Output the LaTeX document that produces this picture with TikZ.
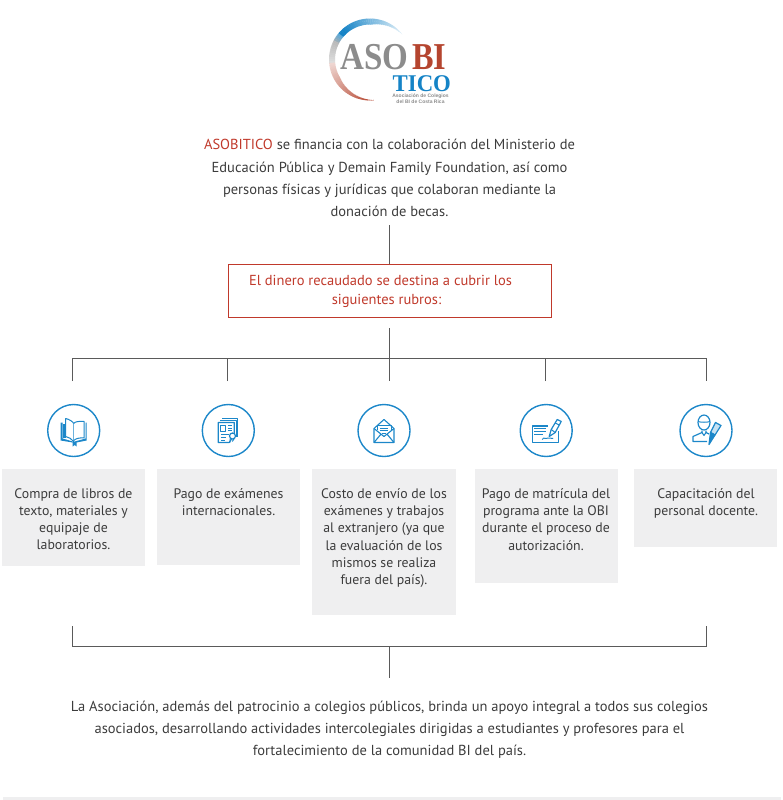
\documentclass[tikz,border=0pt]{standalone}
\usepackage{fontspec}
\usepackage{graphicx}
\setmainfont{PT Sans}
\newfontfamily\logoserif{Liberation Serif}
\newfontfamily\logosans{Liberation Sans}
\usetikzlibrary{calc}
\definecolor{linegray}{HTML}{5A5A5A}
\definecolor{txt}{HTML}{3C3C3C}
\definecolor{redb}{HTML}{C0392B}
\definecolor{boxg}{HTML}{EFEFF0}
\definecolor{iconb}{HTML}{1C87C9}
\definecolor{logog}{HTML}{8C8C8C}
\definecolor{logor}{HTML}{B5452F}
\definecolor{logob}{HTML}{1583C6}
\tikzset{
  x=1pt,y=-1pt,
  conn/.style={draw=linegray,line width=0.8pt},
  body/.style={text=txt,font=\fontsize{14.5}{22.2}\selectfont,align=center,inner sep=0pt},
  boxtxt/.style={text=txt,font=\fontsize{13.8}{17.2}\selectfont,align=center,inner sep=0pt,anchor=north},
  redbox/.style={draw=redb,line width=0.8pt,minimum width=323pt,minimum height=53pt,inner sep=0pt},
  redtxt/.style={text=redb,font=\fontsize{14.5}{18.5}\selectfont,align=center,inner sep=0pt},
  icirc/.style={circle,draw=iconb,line width=1.4pt,minimum size=52pt,inner sep=0pt},
  ic/.style={draw=iconb,line width=1pt,line join=round},
  icf/.style={fill=iconb,draw=none},
}
\begin{document}
\begin{tikzpicture}
\useasboundingbox (0,0) rectangle (783,800);
% logo ring
\foreach \a in {38,41,...,272} {
  \pgfmathsetmacro\w{min(6,(\a-35)*0.12,(276-\a)*0.09)}
  \pgfmathsetmacro\rr{41-\w/2}
  \pgfmathtruncatemacro\zone{\a<140 ? 1 : (\a<152 ? 2 : (\a<185 ? 3 : 4))}
  \ifcase\zone\or
    \pgfmathtruncatemacro\m{min(100,12+(\a-38)*0.95)}\colorlet{ringc}{logob!\m}
  \or
    \pgfmathtruncatemacro\m{100-(\a-140)*8}\colorlet{ringc}{logob!\m!logog!70}
  \or
    \pgfmathtruncatemacro\m{60-(\a-152)*1}\colorlet{ringc}{logog!\m}
  \or
    \pgfmathtruncatemacro\m{22+(\a-185)*0.9}\colorlet{ringc}{logor!\m}
  \fi
  \draw[line width=\w pt,ringc] ($(370,59.5)+({\rr*cos(\a)},{-\rr*sin(\a)})$) arc[start angle=-\a,end angle=-\a-3.5,radius=\rr];
}
\node[inner sep=0pt,anchor=base west,text=logog,font=\logoserif\bfseries\fontsize{38}{38}\selectfont] (aso) at (340,70) {\scalebox{0.87}[1]{ASO}};
\node[inner sep=0pt,anchor=base west,text=logor,font=\logoserif\bfseries\fontsize{38}{38}\selectfont] (bi) at (412,70) {\scalebox{0.85}[1]{BI}};
\node[inner sep=0pt,anchor=base west,text=logob,font=\logoserif\bfseries\fontsize{24}{24}\selectfont] (tico) at (392.5,91) {\scalebox{0.95}[1]{TICO}};
\node[inner sep=0pt,text=logog,align=center,font=\logosans\bfseries\fontsize{5}{5.8}\selectfont] (sub) at (420.5,99) {Asociación de Colegios\\del BI de Costa Rica};
% intro
\node[body] (intro) at (389.5,178) {{\color{redb}ASOBITICO} se financia con la colaboración del Ministerio de\\Educación Pública y Demain Family Foundation, así como\\personas físicas y jurídicas que colaboran mediante la\\donación de becas.};
\coordinate (t1) at (389.5,225);
\node[redbox] (red) at (389.5,290.5) {};
\node[redtxt] (redt) at (380.5,291.5) {El dinero recaudado se destina a cubrir los\hspace{6pt}\\\hspace{12pt}siguientes rubros:};
\draw[conn] (t1) -- (red.north);
% tree
\coordinate (hub) at (389.5,358);
\coordinate (t2) at (389.5,328);
\coordinate (bl) at (72.5,358); \coordinate (br) at (706.5,358);
\coordinate (d1) at (72.5,381); \coordinate (d2) at (227.5,381); \coordinate (d3) at (389.5,381); \coordinate (d4) at (545,381); \coordinate (d5) at (706.5,381);
\draw[conn] (d1) -- (bl) -- (br) -- (d5);
\draw[conn] (t2) -- (d3);
\draw[conn] (d2) -- (d2 |- hub);
\draw[conn] (d4) -- (d4 |- hub);
% circles
\node[icirc] (c1) at (73.7,430.5) {};
\node[icirc] (c2) at (228.3,430.5) {};
\node[icirc] (c3) at (384,430.5) {};
\node[icirc] (c4) at (546.2,430.5) {};
\node[icirc] (c5) at (706,430.5) {};
% boxes
\fill[boxg] (2,469) rectangle (145,566);
\fill[boxg] (157,469) rectangle (300,565);
\fill[boxg] (312,469) rectangle (456,615);
\fill[boxg] (474.5,469) rectangle (618,583);
\fill[boxg] (634,469) rectangle (777,547);
\node[boxtxt] (b1) at (73.5,488.3) {Compra de libros de\\texto, materiales y\\equipaje de\\laboratorios.};
\node[boxtxt] (b2) at (228.5,488.3) {Pago de exámenes\\internacionales.};
\node[boxtxt] (b3) at (384,488.3) {Costo de envío de los\\exámenes y trabajos\\al extranjero (ya que\\la evaluación de los\\mismos se realiza\\fuera del país).};
\node[boxtxt] (b4) at (546,488.3) {Pago de matrícula del\\programa ante la OBI\\durante el proceso de\\autorización.};
\node[boxtxt] (b5) at (706,488.3) {Capacitación del\\personal docente.};
% icon 1 book
\begin{scope}[shift={(c1.center)}]
 \fill[iconb] (-13,-8) -- (-11,-8) -- (-11,8) -- (-1,11) -- (1,11) -- (12,8) -- (12,-8) -- (13,-8) -- (13,10) -- (3,12) -- (3,16) -- (1,14.5) -- (-1,16) -- (-1,12) -- (-13,10) -- cycle;
 \fill[iconb] (-11,-7) rectangle (-8,7);
 \draw[ic,fill=white] (-8,-12) .. controls (-4,-11) and (-1,-9) .. (0,-7) -- (0,11) .. controls (-2,8) and (-5,7) .. (-8,6) -- cycle;
 \draw[ic,fill=white] (0,-7) .. controls (1,-9) and (6,-9.5) .. (10.5,-9) -- (10.5,7.5) .. controls (6,7) and (2,8) .. (0,10);
\end{scope}
% icon 2 document
\begin{scope}[shift={(c2.center)}]
 \draw[ic] (-6,-12) -- (9.5,-12) -- (9.5,6);
 \draw[ic] (-8,-10.2) -- (7.7,-10.2) -- (7.7,6);
 \draw[ic,fill=white,line width=1.2pt] (-10,-8) -- (6,-8) -- (6,4) -- (1,12) -- (-10,12) -- cycle;
 \draw[ic] (-7.5,-5) rectangle (-2.5,1);
 \draw[ic] (-0.5,-5) -- (4,-5) (-0.5,-2.5) -- (4,-2.5) (-0.5,0) -- (4,0);
 \draw[ic] (-7.5,4) -- (1,4) (-7.5,7) -- (-2,7) (-7.5,10) -- (-3,10);
 \draw[ic,fill=white,line width=1.2pt] (4.2,5.5) circle[radius=3];
 \draw[ic] (2,8) -- (1.5,12) (6,8) -- (4,11);
\end{scope}
% icon 3 envelope
\begin{scope}[shift={(c3.center)}]
 \draw[ic,line width=1.1pt] (-10,-2) -- (0,-11) -- (10,-2) -- (10,12) -- (-10,12) -- cycle;
 \draw[ic] (-7,-1) -- (-7,-5) -- (7,-5) -- (7,-1);
 \draw[ic] (-4,-2.5) -- (4,-2.5) (-4,0) -- (4,0) (-2,2.5) -- (2,2.5);
 \draw[ic,line width=1.1pt] (-10,-2) -- (0,6) -- (10,-2) (-10,12) -- (-3,3.6) (10,12) -- (3,3.6);
\end{scope}
% icon 4 check and pen
\begin{scope}[shift={(c4.center)}]
 \draw[ic,line width=1.2pt] (1.5,-4.5) -- (-14,-4.5) -- (-14,12) -- (12,12) -- (12,0);
 \draw[ic] (-12,-2) -- (0,-2) (-12,1) -- (0,1) (-12,4) -- (-3,4);
 \draw[ic] (-4,9) .. controls (-2,6) and (-1,9) .. (0,8) .. controls (1,6) and (2,9) .. (3,7.5) -- (7,8);
 \draw[ic,fill=white,line width=1.2pt] (3,6) -- (5,-1) -- (11,-11) -- (15,-9) -- (9,2) -- cycle;
 \draw[ic] (9,-7.5) -- (13,-5.5) (5,-1) -- (9,2);
\end{scope}
% icon 5 person and pencil
\begin{scope}[shift={(c5.center)}]
 \draw[ic,line width=1.2pt] (-2,-8) circle[x radius=6,y radius=7.5];
 \draw[ic] (-8,-9) .. controls (-5,-8) and (1,-8) .. (4,-9);
 \draw[ic,line width=1.2pt] (-4,0) -- (-4,2) -- (-13,6) -- (-13,11) -- (1,11);
 \draw[ic,line width=1.2pt] (0,0) -- (0,2) -- (3,3.5);
 \draw[ic] (-4,2) -- (-2,5) -- (0,2);
 \draw[ic,fill=iconb!25,line width=1.2pt] (4.5,2) -- (9,4.5) -- (15,-5) -- (9.5,-8) -- cycle;
 \draw[ic,fill=iconb,line width=1.2pt] (4.5,2) -- (3,14) -- (9,4.5) -- cycle;
\end{scope}
% bottom bracket
\coordinate (e1) at (72.5,626); \coordinate (e2) at (706.5,626);
\coordinate (f1) at (72.5,646); \coordinate (f2) at (706.5,646);
\coordinate (g1) at (389.5,646); \coordinate (g2) at (389.5,678);
\draw[conn] (e1) -- (f1) -- (f2) -- (e2);
\draw[conn] (g1) -- (g2);
\node[body] (concl) at (389.5,730) {La Asociación, además del patrocinio a colegios públicos, brinda un apoyo integral a todos sus colegios\\asociados, desarrollando actividades intercolegiales dirigidas a estudiantes y profesores para el\\fortalecimiento de la comunidad BI del país.};
\fill[boxg] (2.5,797) rectangle (781,800);
\end{tikzpicture}
\end{document}
